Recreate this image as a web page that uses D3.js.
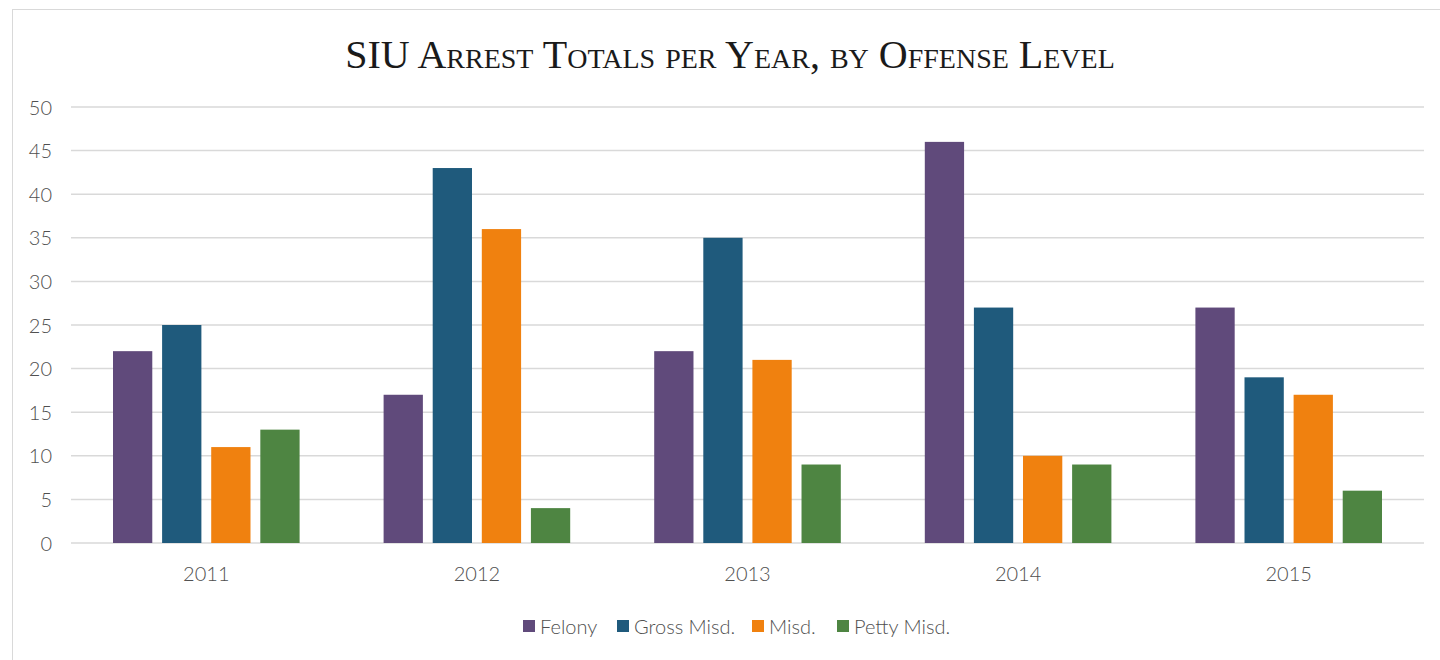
<!DOCTYPE html>
<html>
<head>
<meta charset="utf-8">
<script src="https://cdn.jsdelivr.net/npm/d3@7"></script>
<style>
  html, body { margin: 0; padding: 0; background: #fff; }
  svg { display: block; }
</style>
</head>
<body>
<svg id="chart" width="1440" height="660"></svg>
<script>
// Arrest totals by year and offense level
const years = ["2011", "2012", "2013", "2014", "2015"];
const seriesNames = ["Felony", "Gross Misd.", "Misd.", "Petty Misd."];
const felony     = [22, 17, 22, 46, 27];
const grossMisd  = [25, 43, 35, 27, 19];
const misd       = [11, 36, 21, 10, 17];
const pettyMisd  = [13, 4, 9, 9, 6];
const yTicks = [0, 5, 10, 15, 20, 25, 30, 35, 40, 45, 50];
const colors = ["#604a7b", "#1f5a7c", "#f0810f", "#4e8542"];

const seriesValues = [felony, grossMisd, misd, pettyMisd];
const rows = years.map((y, i) => ({
  year: y,
  values: seriesNames.map((s, j) => ({ key: s, value: seriesValues[j][i], idx: j }))
}));

const svg = d3.select("#chart");
const labelFont = "Lato, 'Open Sans', sans-serif";
const textColor = "#505050";

// outer chart frame
svg.append("rect")
  .attr("x", 12.5).attr("y", 9.5)
  .attr("width", 1460).attr("height", 700)
  .attr("fill", "none").attr("stroke", "#d9d9d9").attr("stroke-width", 1);

const plot = { left: 71, right: 1424, top: 107, bottom: 543 };

const x0 = d3.scaleBand().domain(years).range([plot.left, plot.right]).paddingInner(0).paddingOuter(0);
const x1 = d3.scaleBand().domain(seriesNames)
  .range([42, x0.bandwidth() - 42]).paddingInner(0.2).paddingOuter(0);
const y = d3.scaleLinear().domain([0, 50]).range([plot.bottom, plot.top]);

// gridlines
svg.append("g")
  .selectAll("line").data(yTicks).join("line")
  .attr("x1", plot.left).attr("x2", plot.right)
  .attr("y1", d => y(d)).attr("y2", d => y(d))
  .attr("stroke", "#d9d9d9").attr("stroke-width", 1.5);

// y axis labels
const yAxis = d3.axisLeft(y).tickValues(yTicks).tickSize(0).tickPadding(0);
const yg = svg.append("g").attr("transform", `translate(${plot.left - 19},0)`).call(yAxis);
yg.select(".domain").remove();
yg.selectAll("text")
  .attr("font-family", labelFont).attr("font-size", 20).attr("font-weight", 300)
  .attr("fill", textColor).attr("text-anchor", "end").attr("dy", "0.35em");

// x axis labels
const xAxis = d3.axisBottom(x0).tickSize(0).tickPadding(0);
const xg = svg.append("g").attr("transform", `translate(0,${plot.bottom + 31})`).call(xAxis);
xg.select(".domain").remove();
xg.selectAll("text")
  .attr("font-family", labelFont).attr("font-size", 20).attr("font-weight", 300)
  .attr("fill", textColor).attr("dy", "0.35em");

// bars
svg.append("g")
  .selectAll("g").data(rows).join("g")
  .attr("transform", d => `translate(${x0(d.year)},0)`)
  .selectAll("rect").data(d => d.values).join("rect")
  .attr("x", d => x1(d.key))
  .attr("width", x1.bandwidth())
  .attr("y", d => y(d.value))
  .attr("height", d => y(0) - y(d.value))
  .attr("fill", d => colors[d.idx]);

// title
svg.append("text")
  .attr("x", 730).attr("y", 68)
  .attr("text-anchor", "middle")
  .attr("font-family", "'Liberation Serif', 'DejaVu Serif', serif")
  .attr("font-size", 40)
  .style("font-variant", "small-caps")
  .attr("fill", "#1a1a1a")
  .text("SIU Arrest Totals per Year, by Offense Level");

// legend
const legendX = [523, 617, 752, 837];
const legend = svg.append("g")
  .selectAll("g").data(seriesNames).join("g")
  .attr("transform", (d, i) => `translate(${legendX[i]},620)`);
legend.append("rect")
  .attr("width", 12).attr("height", 12)
  .attr("fill", (d, i) => colors[i]);
legend.append("text")
  .attr("x", 17).attr("y", 7).attr("dy", "0.35em")
  .attr("font-family", labelFont).attr("font-size", 20).attr("font-weight", 300)
  .attr("fill", textColor)
  .text(d => d);
</script>
</body>
</html>
